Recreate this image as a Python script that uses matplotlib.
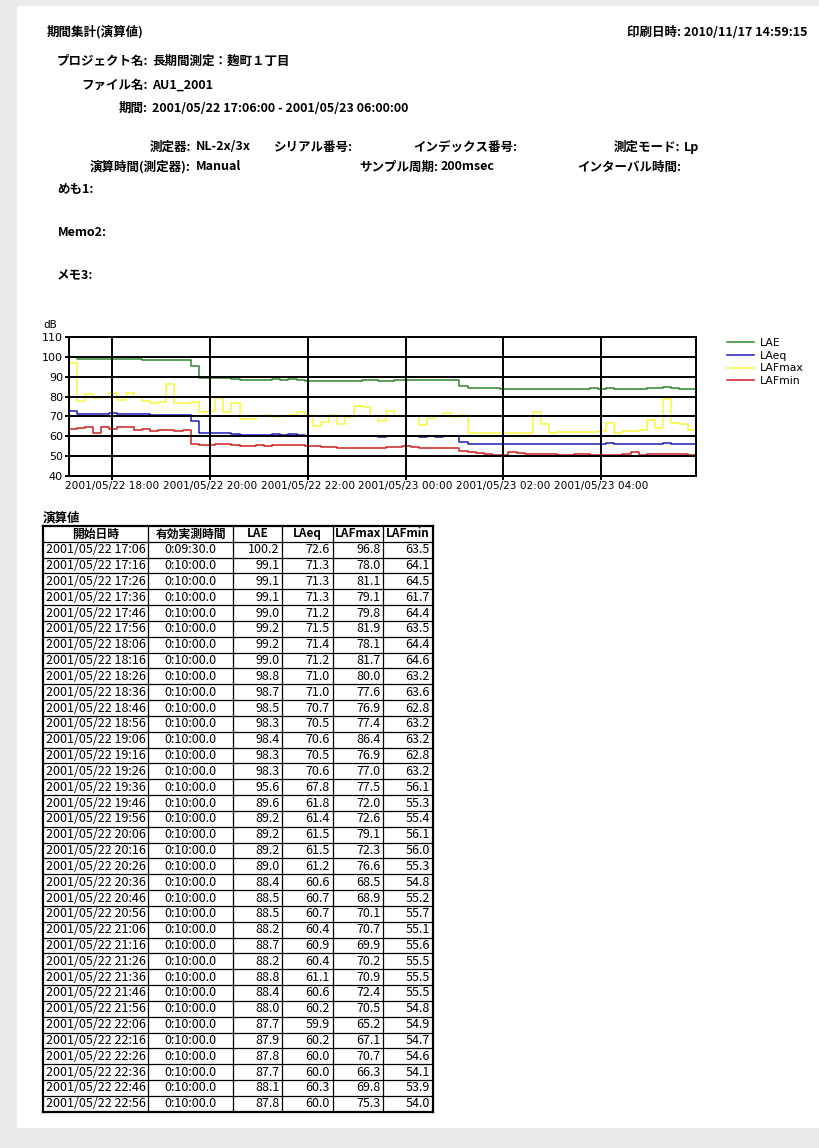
import matplotlib
matplotlib.use("Agg")
import matplotlib.pyplot as plt
import matplotlib.dates as mdates
from matplotlib.patches import Rectangle
import pandas as pd

plt.rcParams['font.family'] = ['Noto Sans CJK JP', 'DejaVu Sans']

# 10 minute intervals, 2001/05/22 17:06 .. 2001/05/23 05:56
times = pd.date_range('2001-05-22 17:06', periods=78, freq='10min')

dur = ['0:09:30.0'] + ['0:10:00.0'] * 35

lae = [100.2, 99.1, 99.1, 99.1, 99.0, 99.2, 99.2, 99.0, 98.8, 98.7, 98.5, 98.3,
       98.4, 98.3, 98.3, 95.6, 89.6, 89.2, 89.2, 89.2, 89.0, 88.4, 88.5, 88.5,
       88.2, 88.7, 88.2, 88.8, 88.4, 88.0, 87.7, 87.9, 87.8, 87.7, 88.1, 87.8,
       # from the chart only
       88.3, 88.3, 87.8, 87.8, 88.2, 88.5, 88.5, 88.5, 88.5, 88.5, 88.5, 88.5,
       85.5, 84.3, 84.3, 84.3, 84.3, 83.8, 83.8, 83.8, 83.8, 83.8, 83.8, 83.8,
       83.8, 83.8, 83.8, 83.8, 84.5, 83.8, 84.5, 83.8, 83.8, 83.8, 83.8, 84.3,
       84.3, 85.0, 84.6, 84.0, 83.8, 83.8]

laeq = [72.6, 71.3, 71.3, 71.3, 71.2, 71.5, 71.4, 71.2, 71.0, 71.0, 70.7, 70.5,
        70.6, 70.5, 70.6, 67.8, 61.8, 61.4, 61.5, 61.5, 61.2, 60.6, 60.7, 60.7,
        60.4, 60.9, 60.4, 61.1, 60.6, 60.2, 59.9, 60.2, 60.0, 60.0, 60.3, 60.0,
        60.2, 60.1, 59.6, 60.0, 60.2, 60.1, 60.2, 59.6, 60.0, 59.6, 60.0, 60.1,
        57.2, 56.0, 55.9, 55.9, 55.9, 55.9, 55.9, 55.9, 55.9, 55.9, 55.9, 55.9,
        55.9, 55.9, 55.9, 55.9, 55.9, 55.9, 56.6, 55.9, 55.9, 55.9, 55.9, 55.9,
        55.9, 56.6, 56.0, 55.9, 55.9, 55.9]

lafmax = [96.8, 78.0, 81.1, 79.1, 79.8, 81.9, 78.1, 81.7, 80.0, 77.6, 76.9, 77.4,
          86.4, 76.9, 77.0, 77.5, 72.0, 72.6, 79.1, 72.3, 76.6, 68.5, 68.9, 70.1,
          70.7, 69.9, 70.2, 70.9, 72.4, 70.5, 65.2, 67.1, 70.7, 66.3, 69.8, 75.3,
          75.0, 70.3, 67.5, 72.5, 70.0, 70.0, 70.2, 65.8, 69.0, 70.3, 71.8, 69.6,
          70.5, 61.6, 61.6, 61.6, 61.6, 61.6, 61.6, 61.6, 61.6, 72.0, 66.0, 61.8,
          62.0, 62.0, 62.0, 62.0, 62.0, 62.5, 66.5, 61.5, 62.5, 62.8, 63.0, 68.0,
          64.0, 78.8, 66.5, 66.0, 63.0, 63.0]

lafmin = [63.5, 64.1, 64.5, 61.7, 64.4, 63.5, 64.4, 64.6, 63.2, 63.6, 62.8, 63.2,
          63.2, 62.8, 63.2, 56.1, 55.3, 55.4, 56.1, 56.0, 55.3, 54.8, 55.2, 55.7,
          55.1, 55.6, 55.5, 55.5, 55.5, 54.8, 54.9, 54.7, 54.6, 54.1, 53.9, 54.0,
          54.0, 54.0, 54.0, 54.6, 54.6, 54.8, 54.3, 54.2, 54.2, 54.2, 54.2, 54.2,
          52.5, 52.0, 51.5, 51.2, 50.5, 50.4, 52.0, 51.5, 51.2, 51.2, 51.2, 51.0,
          50.4, 50.4, 51.0, 51.2, 50.5, 50.5, 50.5, 50.5, 51.0, 51.8, 50.5, 51.2,
          51.2, 51.2, 51.2, 51.2, 50.4, 50.4]

series = [('LAE', lae, '#2d862d'), ('LAeq', laeq, '#1c1cb8'),
          ('LAFmax', lafmax, '#f7f73c'), ('LAFmin', lafmin, '#cc2020')]

headers = ['開始日時', '有効実測時間', 'LAE', 'LAeq', 'LAFmax', 'LAFmin']

W, H = 820, 1148
fig = plt.figure(figsize=(W / 100, H / 100), dpi=100)
fig.patch.set_facecolor('#ebebeb')

page = fig.add_axes([0, 0, 1, 1])
page.set_xlim(0, W)
page.set_ylim(H, 0)
page.axis('off')
page.add_patch(Rectangle((17, 6), W - 17, 1122, facecolor='white', edgecolor='none'))


def txt(x, y, s, ha='left', size=9, weight='bold'):
    page.text(x, y, s, ha=ha, va='center', fontsize=size, fontweight=weight)


txt(47, 32, '期間集計(演算値)')
txt(808, 32, '印刷日時: 2010/11/17 14:59:15', ha='right')

txt(148, 61, 'プロジェクト名:', ha='right')
txt(152, 61, '長期間測定：麹町１丁目')
txt(148, 85, 'ファイル名:', ha='right')
txt(152, 85, 'AU1_2001')
txt(148, 108, '期間:', ha='right')
txt(152, 108, '2001/05/22 17:06:00 - 2001/05/23 06:00:00')

txt(191, 147, '測定器:', ha='right')
txt(196, 147, 'NL-2x/3x')
txt(274, 147, 'シリアル番号:')
txt(413, 147, 'インデックス番号:')
txt(680, 147, '測定モード:', ha='right')
txt(684, 147, 'Lp')
txt(191, 167, '演算時間(測定器):', ha='right')
txt(196, 167, 'Manual')
txt(438, 167, 'サンプル周期:', ha='right')
txt(441, 167, '200msec')
txt(577, 167, 'インターバル時間:')

txt(57, 189, 'めも1:')
txt(58, 233, 'Memo2:')
txt(57, 276, 'メモ3:')

# ---- chart ----
ax = fig.add_axes([68.5 / W, 1 - 475.7 / H, 627.2 / W, 138.4 / H])
for name, vals, col in series:
    ax.step(times, vals, where='post', color=col, lw=1.1, label=name, zorder=2)
ax.set_xlim(times[0], times[-1])
ax.set_ylim(40, 110)
ax.set_yticks(range(40, 111, 10))
ax.xaxis.set_major_locator(mdates.HourLocator(byhour=[0, 2, 4, 18, 20, 22]))
ax.xaxis.set_major_formatter(mdates.DateFormatter('%Y/%m/%d %H:%M'))
ax.set_axisbelow(False)
ax.grid(True, color='black', lw=1.4)
for sp in ax.spines.values():
    sp.set_linewidth(1.4)
ax.tick_params(length=3, width=1.4, pad=1)
for lab in ax.get_xticklabels():
    lab.set_family('DejaVu Sans')
    lab.set_fontsize(7.6)
for lab in ax.get_yticklabels():
    lab.set_family('DejaVu Sans')
    lab.set_fontsize(8)
ax.text(-0.04, 1.09, 'dB', transform=ax.transAxes, family='DejaVu Sans',
        fontsize=7.5, va='center', ha='left')
leg = ax.legend(loc='upper left', bbox_to_anchor=(727 / W, 1 - 338 / H),
                bbox_transform=fig.transFigure, frameon=False,
                prop={'family': 'DejaVu Sans', 'size': 7.8},
                handlelength=2.5, handletextpad=0.5, labelspacing=0.25,
                borderpad=0, borderaxespad=0)

# ---- table ----
txt(43, 518, '演算値')
col_x = [43, 148.3, 232.7, 282.3, 333, 383.3, 433]
top, pitch = 526, 15.83
nrows = len(dur) + 1
ys = [top + i * pitch for i in range(nrows + 1)]
for i, y in enumerate(ys):
    page.plot([col_x[0], col_x[-1]], [y, y], color='black',
              lw=1.6 if i in (0, nrows) else 0.9)
for j, x in enumerate(col_x):
    page.plot([x, x], [ys[0], ys[-1]], color='black',
              lw=1.6 if j in (0, len(col_x) - 1) else 0.9)

for j, h in enumerate(headers):
    page.text((col_x[j] + col_x[j + 1]) / 2, ys[0] + pitch / 2, h, ha='center',
              va='center', fontsize=8.5, fontweight='bold')

for i in range(len(dur)):
    yc = ys[i + 1] + pitch / 2
    page.text((col_x[0] + col_x[1]) / 2, yc, times[i].strftime('%Y/%m/%d %H:%M'),
              ha='center', va='center', fontsize=9)
    page.text((col_x[1] + col_x[2]) / 2, yc, dur[i], ha='center', va='center',
              fontsize=9)
    for j, vals in enumerate([lae, laeq, lafmax, lafmin]):
        page.text(col_x[j + 3] - 3, yc, '%.1f' % vals[i], ha='right',
                  va='center', fontsize=9)

fig.savefig('out.png', dpi=100, facecolor=fig.get_facecolor())
